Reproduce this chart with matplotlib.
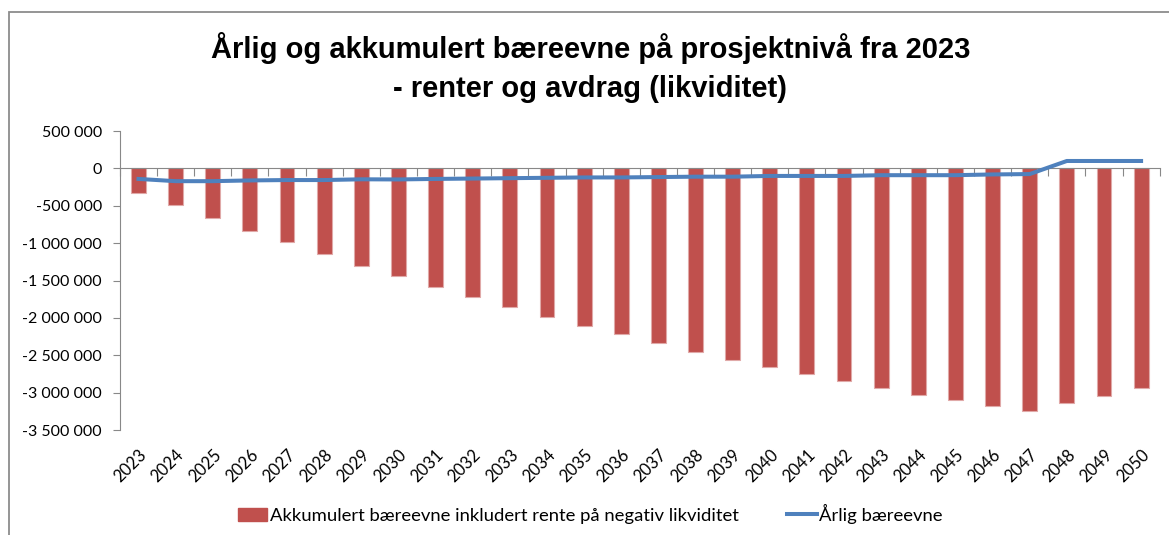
import matplotlib
matplotlib.use("Agg")
import matplotlib.pyplot as plt
from matplotlib.patches import Rectangle
from matplotlib.lines import Line2D
from matplotlib.ticker import FuncFormatter

years = [str(y) for y in range(2023, 2051)]

# akkumulert baereevne (kr)
akkumulert = [-326000, -490000, -660000, -830000, -990000, -1140000, -1300000,
              -1440000, -1590000, -1720000, -1850000, -1990000, -2110000,
              -2220000, -2340000, -2450000, -2560000, -2650000, -2750000,
              -2840000, -2940000, -3030000, -3100000, -3180000, -3250000,
              -3140000, -3040000, -2930000]

# aarlig baereevne (kr)
aarlig = [-140000, -170000, -170000, -160000, -155000, -155000, -145000,
          -147000, -140000, -135000, -130000, -125000, -120000, -120000,
          -115000, -110000, -110000, -100000, -100000, -100000, -90000,
          -90000, -90000, -80000, -75000, 100000, 100000, 100000]

title = "Årlig og akkumulert bæreevne på prosjektnivå fra 2023\n- renter og avdrag (likviditet)"
bar_label = "Akkumulert bæreevne inkludert rente på negativ likviditet"
line_label = "Årlig bæreevne"

plt.rcParams['font.family'] = ['Lato', 'DejaVu Sans']

fig = plt.figure(figsize=(11.69, 5.35), dpi=100)
ax = fig.add_axes([0.1026, 0.196, 0.8894, 0.559])

x = list(range(len(years)))
ax.bar(x, akkumulert, width=0.4, color='#C0504D', edgecolor='#E0A9A8',
       linewidth=0.8, zorder=2)
ax.plot(x, aarlig, color='#4F81BD', linewidth=2.9, zorder=3)

ax.set_xlim(-0.5, len(years) - 0.5)
ax.set_ylim(-3500000, 500000)
ax.set_yticks(range(-3500000, 500001, 500000))
ax.yaxis.set_major_formatter(FuncFormatter(lambda v, p: f"{int(v):,}".replace(",", " ")))
ax.tick_params(axis='y', labelsize=11.5, length=5, color='#888888', pad=8)

# category axis at zero, tick marks between categories
ax.spines['bottom'].set_position(('data', 0))
ax.set_xticks([i - 0.5 for i in range(len(years) + 1)])
ax.tick_params(axis='x', labelbottom=False, length=6, color='#888888', direction='out')
for s in ['top', 'right']:
    ax.spines[s].set_visible(False)
for s in ['left', 'bottom']:
    ax.spines[s].set_color('#888888')

# year labels at bottom of plot area
sec = ax.secondary_xaxis(0)
sec.set_xticks(x)
sec.set_xticklabels(years, rotation=45, ha='right', rotation_mode='anchor', fontsize=12)
sec.tick_params(length=0, pad=12)
sec.spines['bottom'].set_visible(False)

fig.text(0.505, 0.873, title, ha='center', va='center', fontsize=21,
         fontweight='bold', family=['Liberation Sans', 'DejaVu Sans'], linespacing=1.5)

handles = [Rectangle((0, 0), 1, 1, color='#C0504D'),
           Line2D([0], [0], color='#4F81BD', linewidth=2.9)]
fig.legend(handles, [bar_label, line_label], loc='center', bbox_to_anchor=(0.505, 0.04),
           ncol=2, frameon=False, fontsize=13.3, handlelength=1.6, handletextpad=0.15,
           columnspacing=2.6)

# chart area border
fig.patches.append(Rectangle((9 / 1169, -0.1), 1.2, 1 - 12 / 535 + 0.1,
                             transform=fig.transFigure, fill=False,
                             edgecolor='#8c8c8c', linewidth=1.3))

fig.savefig("out.png", dpi=100)
